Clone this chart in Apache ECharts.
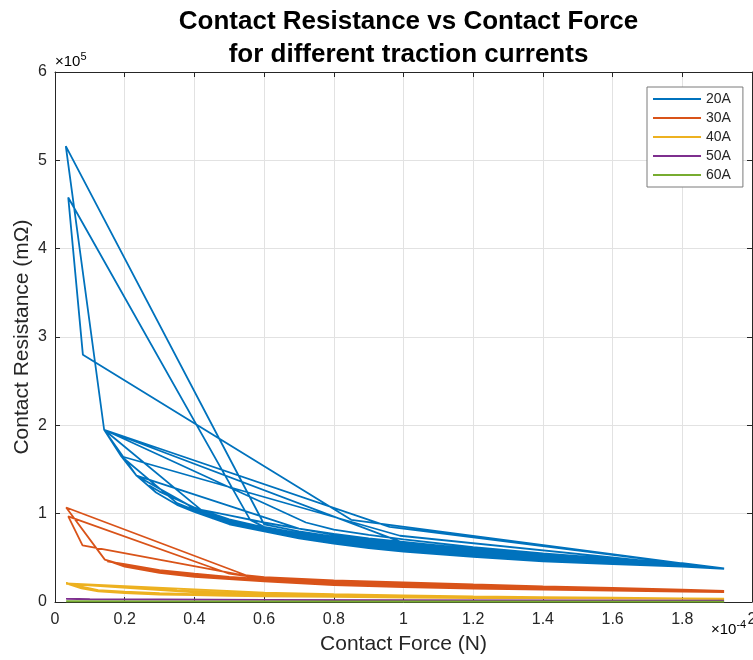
<!DOCTYPE html>
<html>
<head>
<meta charset="utf-8">
<script src="https://cdn.jsdelivr.net/npm/echarts@6/dist/echarts.min.js"></script>
<style>
html,body{margin:0;padding:0;background:#fff;}
#chart{width:753px;height:660px;}
</style>
</head>
<body>
<div id="chart"></div>
<script>
// x in units of 1e-4 N, y in units of 1e5 mΩ
const seriesNames = ['20A', '30A', '40A', '50A', '60A'];
const seriesColors = ['#0072BD', '#D95319', '#EDB120', '#7E2F8E', '#77AC30'];

const data20A = [
  [0.141,1.95],[0.19,1.65],[0.234,1.43],[0.29,1.24],[0.35,1.10],[0.40,1.02],[0.50,0.88],[0.60,0.80],[0.70,0.72],[0.80,0.66],[0.90,0.61],[1.00,0.57],[1.20,0.51],[1.40,0.46],[1.60,0.43],[1.80,0.40],[1.92,0.375],
  [1.80,0.405],[1.60,0.44],[1.40,0.47],[1.20,0.525],[1.00,0.59],[0.90,0.63],[0.80,0.68],[0.70,0.74],[0.60,0.815],[0.50,0.90],[0.40,1.04],[0.35,1.12],
  [0.19,1.65],[0.141,1.95],[0.96,0.85],[1.92,0.375],
  [1.80,0.41],[1.60,0.45],[1.40,0.485],[1.20,0.54],[1.00,0.61],[0.90,0.65],[0.80,0.70],[0.70,0.76],[0.60,0.83],[0.50,0.92],[0.40,1.06],
  [0.234,1.43],[0.141,1.95],[1.00,0.67],
  [1.20,0.585],[1.40,0.52],[1.60,0.47],[1.80,0.425],[1.92,0.38],
  [1.80,0.415],[1.60,0.46],[1.40,0.50],[1.20,0.555],[1.00,0.63],[0.90,0.67],[0.80,0.72],[0.70,0.78],[0.60,0.85],[0.56,0.93],
  [0.038,4.58],[0.08,2.80],[0.85,0.93],[1.92,0.375],
  [1.80,0.42],[1.60,0.465],[1.40,0.51],[1.20,0.57],[1.00,0.65],[0.90,0.69],[0.80,0.74],[0.70,0.80],[0.60,0.88],
  [0.031,5.16],[0.141,1.95],[0.19,1.65],[0.99,0.75],[1.92,0.375],
  [1.80,0.40],[1.60,0.435],[1.40,0.465],[1.20,0.515],[1.00,0.58],[0.90,0.62],[0.80,0.67],[0.70,0.73],[0.60,0.805],[0.50,0.89],[0.45,0.95],
  [0.234,1.43],[0.70,0.83],
  [0.80,0.76],[0.90,0.71],[1.00,0.67],[1.20,0.59],[1.40,0.525],[1.60,0.475],[1.80,0.43],[1.92,0.38],
  [1.80,0.41],[1.60,0.445],[1.40,0.48],[1.20,0.53],[1.00,0.60],[0.90,0.64],[0.80,0.69],[0.70,0.75],[0.60,0.82],[0.50,0.91],[0.40,1.05],[0.37,1.08],
  [0.45,1.02],[0.50,0.98],[0.60,0.90],[0.70,0.83],[0.80,0.77],[0.90,0.72],[1.00,0.68],[1.20,0.60],[1.40,0.53],[1.60,0.48],[1.80,0.43],[1.92,0.38],
  [1.80,0.42],[1.60,0.455],[1.40,0.495],[1.20,0.545],[1.00,0.615],[0.90,0.66],[0.80,0.71],[0.70,0.77],[0.60,0.84],[0.50,0.93],[0.42,1.04],
  [0.141,1.95],[0.72,0.90],[0.80,0.82],[0.90,0.76],[1.00,0.71],[1.20,0.62],[1.40,0.55],[1.60,0.49],[1.80,0.44],[1.92,0.38],
  [1.80,0.412],[1.60,0.452],[1.40,0.49],[1.20,0.548],[1.00,0.62],[0.90,0.66],[0.80,0.715],[0.70,0.775],[0.60,0.845],[0.50,0.935],[0.40,1.07],[0.30,1.25],[0.27,1.32]
];

const data30A = [
  [0.143,0.48],[0.20,0.40],[0.30,0.33],[0.40,0.285],[0.50,0.26],[0.60,0.235],[0.80,0.19],[1.00,0.168],[1.20,0.152],[1.40,0.14],[1.60,0.13],[1.80,0.118],[1.92,0.113],
  [1.80,0.13],[1.60,0.146],[1.40,0.16],[1.20,0.175],[1.00,0.195],[0.80,0.215],[0.60,0.25],[0.55,0.30],
  [0.032,1.07],[0.143,0.48],
  [0.20,0.415],[0.30,0.345],[0.40,0.30],[0.50,0.27],[0.60,0.245],[0.80,0.20],[1.00,0.18],[1.20,0.162],[1.40,0.15],[1.60,0.138],[1.80,0.124],[1.92,0.117],
  [1.80,0.136],[1.60,0.154],[1.40,0.17],[1.20,0.188],[1.00,0.21],[0.80,0.23],[0.60,0.265],[0.50,0.32],
  [0.038,0.97],[0.079,0.64],[0.53,0.31],
  [0.60,0.28],[0.80,0.245],[1.00,0.222],[1.20,0.198],[1.40,0.178],[1.60,0.16],[1.80,0.14],[1.92,0.127],
  [1.80,0.127],[1.60,0.142],[1.40,0.155],[1.20,0.168],[1.00,0.186],[0.80,0.207],[0.60,0.24],[0.50,0.275],[0.40,0.31],[0.30,0.355],[0.20,0.425],[0.15,0.46],
  [0.20,0.43],[0.30,0.36],[0.40,0.32],[0.50,0.285],[0.60,0.258],[0.80,0.222],[1.00,0.2],[1.20,0.18],[1.40,0.163],[1.60,0.15],[1.80,0.133],[1.92,0.122]
];

const data40A = [
  [0.032,0.21],[0.076,0.155],[0.124,0.12],[0.20,0.10],[0.30,0.085],[0.40,0.077],[0.50,0.07],[0.60,0.065],[0.80,0.057],[1.00,0.05],[1.20,0.045],[1.40,0.041],[1.60,0.038],[1.80,0.035],[1.92,0.033],
  [1.80,0.038],[1.60,0.042],[1.40,0.046],[1.20,0.051],[1.00,0.057],[0.80,0.065],[0.60,0.075],[0.50,0.082],[0.40,0.09],[0.30,0.10],[0.20,0.118],[0.124,0.135],
  [0.032,0.21],[0.57,0.112],
  [0.60,0.105],[0.80,0.088],[1.00,0.075],[1.20,0.064],[1.40,0.056],[1.60,0.049],[1.80,0.042],[1.92,0.038],
  [1.60,0.046],[1.20,0.058],[1.00,0.066],[0.80,0.078],[0.60,0.092],[0.40,0.11],
  [0.032,0.205],[0.35,0.13],[0.60,0.085],[1.00,0.062],[1.40,0.05],[1.92,0.036]
];

const data50A = [
  [0.032,0.035],[0.10,0.031],[0.30,0.027],[0.60,0.023],[1.00,0.02],[1.40,0.018],[1.92,0.016],
  [1.40,0.019],[1.00,0.022],[0.60,0.025],[0.30,0.029],[0.10,0.033],[0.032,0.036]
];

const data60A = [
  [0.032,0.008],[0.30,0.006],[1.00,0.005],[1.92,0.004],
  [1.00,0.006],[0.30,0.007],[0.032,0.009]
];

const allData = [data20A, data30A, data40A, data50A, data60A];

const FONT = '"Liberation Sans", Arial, Helvetica, sans-serif';
const AXIS_COLOR = '#262626';

const chart = echarts.init(document.getElementById('chart'), null, {renderer: 'canvas'});

const series = seriesNames.map((name, i) => ({
  name: name,
  type: 'line',
  data: allData[i],
  showSymbol: false,
  symbol: 'none',
  lineStyle: {color: seriesColors[i], width: 1.8},
  itemStyle: {color: seriesColors[i]},
  z: 2 + i,
  animation: false
}));

const supRich = {
  a: {fontFamily: FONT, fontSize: 15, color: AXIS_COLOR, lineHeight: 18, verticalAlign: 'bottom'},
  b: {fontFamily: FONT, fontSize: 11, color: AXIS_COLOR, lineHeight: 18, verticalAlign: 'top'}
};

const option = {
  animation: false,
  backgroundColor: '#ffffff',
  title: {
    text: 'Contact Resistance vs Contact Force\nfor different traction currents',
    left: 403.5,
    top: 0,
    textAlign: 'center',
    textStyle: {fontFamily: FONT, fontSize: 26, fontWeight: 'bold', color: '#000', lineHeight: 33}
  },
  legend: {
    data: seriesNames,
    orient: 'vertical',
    left: 647,
    top: 87,
    icon: 'rect',
    itemWidth: 48,
    itemHeight: 2,
    itemGap: 5,
    itemTextGap: 5,
    padding: [5, 12, 5, 6],
    backgroundColor: '#fff',
    borderColor: '#7a7a7a',
    borderWidth: 1,
    borderRadius: 0,
    textStyle: {fontFamily: FONT, fontSize: 14, color: AXIS_COLOR, lineHeight: 14}
  },
  grid: {left: 55, right: 1, top: 72, bottom: 58, containLabel: false, outerBoundsMode: 'none'},
  xAxis: [{
    type: 'value', min: 0, max: 2, interval: 0.2,
    name: 'Contact Force (N)', nameLocation: 'middle', nameGap: 32, nameMoveOverlap: false,
    nameTextStyle: {fontFamily: FONT, fontSize: 21, color: AXIS_COLOR},
    axisLine: {show: true, onZero: false, lineStyle: {color: AXIS_COLOR, width: 1}},
    axisTick: {show: true, inside: true, length: 5, lineStyle: {color: AXIS_COLOR}},
    axisLabel: {fontFamily: FONT, fontSize: 16, color: AXIS_COLOR, margin: 10, showMaxLabel: true},
    splitLine: {show: true, lineStyle: {color: '#e2e2e2', width: 1}}
  }, {
    type: 'value', min: 0, max: 2, interval: 0.2, position: 'top',
    axisLine: {show: true, onZero: false, lineStyle: {color: AXIS_COLOR, width: 1}},
    axisTick: {show: true, inside: true, length: 5, lineStyle: {color: AXIS_COLOR}},
    axisLabel: {show: false}, splitLine: {show: false}
  }],
  yAxis: [{
    type: 'value', min: 0, max: 6, interval: 1,
    name: 'Contact Resistance (mΩ)', nameLocation: 'middle', nameGap: 22, nameMoveOverlap: false,
    nameTextStyle: {fontFamily: FONT, fontSize: 21, color: AXIS_COLOR},
    axisLine: {show: true, onZero: false, lineStyle: {color: AXIS_COLOR, width: 1}},
    axisTick: {show: true, inside: true, length: 5, lineStyle: {color: AXIS_COLOR}},
    axisLabel: {fontFamily: FONT, fontSize: 16, color: AXIS_COLOR, margin: 8},
    splitLine: {show: true, lineStyle: {color: '#e2e2e2', width: 1}}
  }, {
    type: 'value', min: 0, max: 6, interval: 1, position: 'right',
    axisLine: {show: true, onZero: false, lineStyle: {color: AXIS_COLOR, width: 1}},
    axisTick: {show: true, inside: true, length: 5, lineStyle: {color: AXIS_COLOR}},
    axisLabel: {show: false}, splitLine: {show: false}
  }],
  graphic: [{
    type: 'text', left: 55, top: 51, z: 100,
    style: {text: '{a|×10}{b|5}', rich: supRich}
  }, {
    type: 'text', left: 711, top: 619, z: 100,
    style: {text: '{a|×10}{b|-4}', rich: supRich}
  }],
  series: series
};

chart.setOption(option);
</script>
</body>
</html>
